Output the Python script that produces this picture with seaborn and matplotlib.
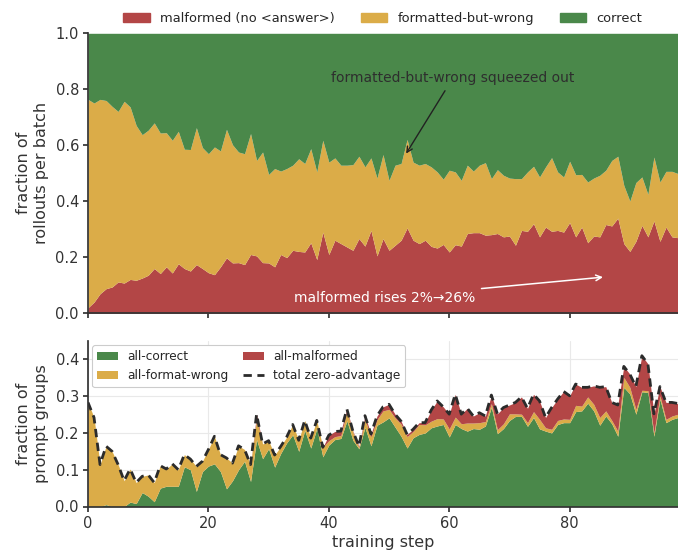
import numpy as np
import matplotlib
matplotlib.use("Agg")
import matplotlib.pyplot as plt
from matplotlib.patches import Patch
import seaborn as sns

# ---- data -------------------------------------------------------------
steps = list(range(99))

# per-batch rollout outcome fractions
malformed = [
    0.02, 0.04, 0.07, 0.088, 0.094, 0.112, 0.108, 0.121, 0.118, 0.126,
    0.136, 0.16, 0.142, 0.166, 0.144, 0.177, 0.16, 0.151, 0.174, 0.16,
    0.145, 0.138, 0.166, 0.198, 0.18, 0.181, 0.174, 0.21, 0.205, 0.181,
    0.18, 0.166, 0.21, 0.199, 0.225, 0.221, 0.219, 0.252, 0.192, 0.29,
    0.21, 0.261, 0.249, 0.237, 0.225, 0.267, 0.24, 0.296, 0.205, 0.267,
    0.225, 0.243, 0.261, 0.305, 0.261, 0.249, 0.261, 0.239, 0.233, 0.246,
    0.219, 0.245, 0.24, 0.285, 0.288, 0.288, 0.279, 0.281, 0.285, 0.273,
    0.276, 0.243, 0.296, 0.293, 0.32, 0.273, 0.308, 0.293, 0.296, 0.29,
    0.324, 0.273, 0.308, 0.252, 0.276, 0.273, 0.317, 0.312, 0.34, 0.249,
    0.221, 0.257, 0.314, 0.273, 0.33, 0.257, 0.308, 0.273, 0.27,
]
correct = [
    0.236, 0.249, 0.236, 0.24, 0.261, 0.279, 0.243, 0.263, 0.329, 0.362,
    0.346, 0.32, 0.356, 0.355, 0.382, 0.35, 0.414, 0.415, 0.337, 0.408,
    0.43, 0.406, 0.42, 0.343, 0.398, 0.424, 0.43, 0.358, 0.454, 0.424,
    0.504, 0.483, 0.492, 0.483, 0.471, 0.448, 0.465, 0.412, 0.495, 0.382,
    0.46, 0.445, 0.471, 0.471, 0.469, 0.439, 0.477, 0.445, 0.517, 0.433,
    0.525, 0.471, 0.465, 0.379, 0.46, 0.471, 0.465, 0.477, 0.495, 0.521,
    0.489, 0.495, 0.525, 0.471, 0.492, 0.471, 0.462, 0.519, 0.487, 0.507,
    0.517, 0.519, 0.519, 0.495, 0.475, 0.513, 0.477, 0.444, 0.495, 0.513,
    0.457, 0.505, 0.504, 0.531, 0.517, 0.507, 0.489, 0.454, 0.439, 0.543,
    0.599, 0.533, 0.513, 0.575, 0.442, 0.531, 0.493, 0.493, 0.501,
]

# per-batch fraction of prompt groups with zero advantage, by cause
all_correct = [
    0, 0, 0, 0.005, 0, 0, 0, 0.012, 0.008, 0.038,
    0.028, 0.013, 0.05, 0.055, 0.055, 0.055, 0.108, 0.1, 0.041, 0.095,
    0.11, 0.116, 0.095, 0.048, 0.07, 0.1, 0.123, 0.068, 0.182, 0.13,
    0.157, 0.107, 0.144, 0.173, 0.195, 0.15, 0.207, 0.159, 0.212, 0.135,
    0.167, 0.182, 0.185, 0.233, 0.18, 0.157, 0.215, 0.165, 0.221, 0.23,
    0.241, 0.216, 0.191, 0.159, 0.187, 0.196, 0.2, 0.214, 0.219, 0.223,
    0.189, 0.223, 0.212, 0.205, 0.212, 0.21, 0.219, 0.27, 0.198, 0.212,
    0.234, 0.245, 0.245, 0.218, 0.242, 0.211, 0.205, 0.2, 0.223, 0.228,
    0.228, 0.258, 0.26, 0.281, 0.26, 0.221, 0.246, 0.225, 0.191, 0.324,
    0.306, 0.251, 0.312, 0.31, 0.191, 0.292, 0.228, 0.237, 0.242,
]
all_format_wrong = [
    0.283, 0.242, 0.114, 0.159, 0.15, 0.114, 0.07, 0.09, 0.057, 0.044,
    0.058, 0.052, 0.061, 0.047, 0.061, 0.045, 0.033, 0.029, 0.068, 0.028,
    0.045, 0.075, 0.046, 0.084, 0.048, 0.065, 0.032, 0.046, 0.057, 0.04,
    0.022, 0.033, 0.019, 0.016, 0.028, 0.03, 0.027, 0.027, 0.022, 0.026,
    0.012, 0.008, 0.008, 0.026, 0.022, 0.004, 0.022, 0.024, 0.015, 0.03,
    0.023, 0.025, 0.033, 0.031, 0.017, 0.027, 0.022, 0.018, 0.02, 0.015,
    0.022, 0.02, 0.013, 0.022, 0.015, 0.018, 0.012, 0.01, 0.011, 0.013,
    0.018, 0.007, 0.006, 0.01, 0.016, 0.026, 0.009, 0.01, 0.011, 0.01,
    0.009, 0.017, 0.013, 0.017, 0.018, 0.021, 0.014, 0.009, 0.014, 0.027,
    0.018, 0.013, 0.004, 0.005, 0.009, 0.009, 0.009, 0.009, 0.009,
]
all_malformed = [
    0, 0, 0, 0, 0, 0, 0, 0, 0, 0,
    0, 0, 0, 0, 0, 0, 0, 0, 0, 0,
    0, 0, 0, 0, 0, 0, 0, 0, 0.012, 0,
    0, 0, 0, 0, 0, 0, 0, 0, 0, 0,
    0.015, 0.014, 0.012, 0.006, 0.003, 0.003, 0.01, 0.008, 0.01, 0.011,
    0.014, 0.01, 0.008, 0.006, 0.006, 0.005, 0.006, 0.03, 0.048, 0.033,
    0.04, 0.062, 0.026, 0.04, 0.019, 0.027, 0.015, 0.023, 0.043, 0.044,
    0.024, 0.031, 0.047, 0.039, 0.047, 0.05, 0.028, 0.059, 0.058, 0.075,
    0.064, 0.058, 0.051, 0.026, 0.05, 0.082, 0.066, 0.049, 0.071, 0.03,
    0.036, 0.062, 0.094, 0.073, 0.052, 0.025, 0.046, 0.037, 0.029,
]

x_ticks = [0, 20, 40, 60, 80]
top_yticks = [0.0, 0.2, 0.4, 0.6, 0.8, 1.0]
bottom_yticks = [0.0, 0.1, 0.2, 0.3, 0.4]

# the three outcomes partition every batch
formatted_wrong = 1.0 - np.array(malformed) - np.array(correct)
total_zero_adv = (np.array(all_correct) + np.array(all_format_wrong)
                  + np.array(all_malformed))

RED = "#b34646"
YELLOW = "#dbac48"
GREEN = "#4a884a"
INK = "#2b2b2b"

# ---- style ------------------------------------------------------------
sns.set_theme(style="ticks")
plt.rcParams["font.family"] = ["DejaVu Sans"]
plt.rcParams.update({
    "axes.edgecolor": "#333333",
    "xtick.color": "#333333",
    "ytick.color": "#333333",
    "xtick.labelcolor": "#333333",
    "ytick.labelcolor": "#333333",
    "axes.labelcolor": "#333333",
    "xtick.major.size": 3.5,
    "ytick.major.size": 3.5,
    "xtick.major.pad": 3,
    "ytick.major.pad": 3,
})

W, H = 678, 556
fig = plt.figure(figsize=(W / 100, H / 100), dpi=100)
left = 88 / W
width = (678 - 88) / W
ax1 = fig.add_axes([left, 1 - 313.3 / H, width, (313.3 - 33.3) / H])
ax2 = fig.add_axes([left, 1 - 506.5 / H, width, (506.5 - 341) / H], sharex=ax1)

# ---- top: stacked outcome shares --------------------------------------
ax1.stackplot(steps, malformed, formatted_wrong, correct,
              colors=[RED, YELLOW, GREEN], linewidth=0)
ax1.set_xlim(0, 98)
ax1.set_ylim(0, 1)
ax1.set_yticks(top_yticks)
ax1.tick_params(labelbottom=False, labelsize=10.5)
ax1.set_ylabel("fraction of\nrollouts per batch", fontsize=11.5, labelpad=5)
sns.despine(ax=ax1)

ax1.annotate("formatted-but-wrong squeezed out",
             xy=(52.6, 0.562), xytext=(60.6, 0.84),
             ha="center", va="center", fontsize=10, color="#2e2e2e",
             arrowprops=dict(arrowstyle="->", color="#222222", lw=1.0))
ax1.annotate("malformed rises 2%\u219226%",
             xy=(86.0, 0.13), xytext=(49.3, 0.056),
             ha="center", va="center", fontsize=10, color="white",
             arrowprops=dict(arrowstyle="->", color="white", lw=1.1))

handles = [Patch(color=RED), Patch(color=YELLOW), Patch(color=GREEN)]
ax1.legend(handles, ["malformed (no <answer>)", "formatted-but-wrong", "correct"],
           loc="lower center", bbox_to_anchor=(0.5, 1.0), ncol=3,
           frameon=False, fontsize=9.4, handlelength=2.0,
           columnspacing=2.0, borderaxespad=0.2)

# ---- bottom: zero-advantage prompt groups -----------------------------
ax2.grid(True, color="#e9e9e9", lw=0.8)
ax2.set_axisbelow(True)
ax2.stackplot(steps, all_correct, all_format_wrong, all_malformed,
              colors=[GREEN, YELLOW, RED], linewidth=0,
              labels=["all-correct", "all-format-wrong", "all-malformed"])
sns.lineplot(x=steps, y=total_zero_adv, ax=ax2, color=INK, lw=2.0,
             linestyle=(0, (3, 2)), label="total zero-advantage")
ax2.set_xlim(0, 98)
ax2.set_ylim(0, 0.45)
ax2.set_xticks(x_ticks)
ax2.set_yticks(bottom_yticks)
ax2.tick_params(labelsize=10.5)
ax2.set_xlabel("training step", fontsize=11.5, labelpad=3)
ax2.set_ylabel("fraction of\nprompt groups", fontsize=11.5, labelpad=5)
sns.despine(ax=ax2)

leg = ax2.legend(loc="upper left", ncol=2, fontsize=8.7, frameon=True,
                 framealpha=1.0, edgecolor="#cccccc", fancybox=True,
                 handlelength=1.7, columnspacing=1.2, borderaxespad=0.35)
leg.get_frame().set_linewidth(0.8)

fig.savefig("out.png", dpi=100)
